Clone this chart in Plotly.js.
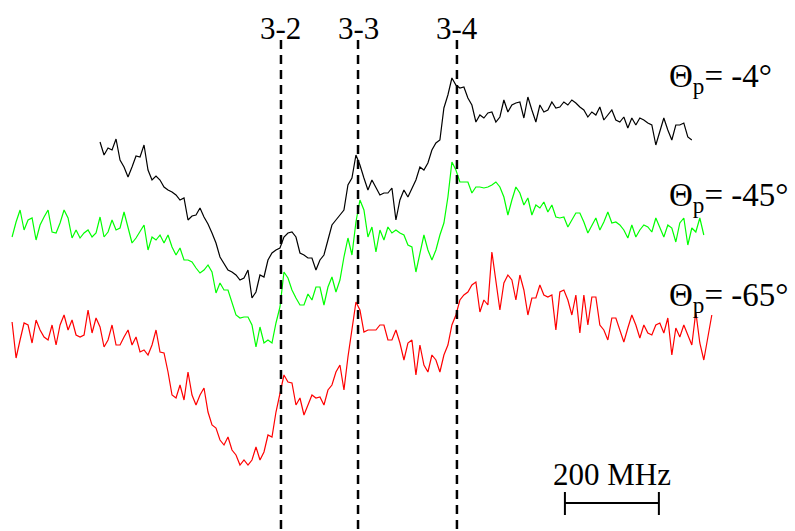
<!DOCTYPE html>
<html>
<head>
<meta charset="utf-8">
<script src="https://cdn.plot.ly/plotly-3.0.1.min.js"></script>
<style>html,body{margin:0;padding:0;background:#fff;}#chart{width:795px;height:531px;}</style>
</head>
<body>
<div id="chart"></div>
<script>
// Frequency grid (MHz) for each spectrum: start frequency + channel step
const CH_STEP = 8.51;
const START_M4 = -385.1;
const START_M45 = -572.3;
const START_M65 = -572.3;

// Spectra (signal, arbitrary units, larger value = lower on the plot)
const sig_m4 = [142,155,148,150,139,160,167,177,167,156,
157,145,170,180,176,180,187,190,192,195,
200,198,220,216,215,208,217,224,233,243,
257,263,270,272,275,280,278,270,298,292,
275,277,260,253,250,248,237,233,232,237,
253,255,258,258,270,260,255,240,225,220,
215,210,185,178,155,165,178,190,180,188,
195,193,193,188,220,200,190,197,188,180,
167,170,163,150,143,140,108,95,78,85,
88,87,98,105,122,115,118,113,112,122,
117,100,112,105,103,102,118,97,110,122,
105,112,110,102,108,107,102,105,100,103,
107,110,117,112,115,107,120,115,110,120,
122,117,128,118,125,118,120,123,125,145,
132,118,130,140,125,125,123,137,140];

const sig_m45 = [237,222,210,230,220,218,240,225,217,210,
232,233,223,210,218,238,230,238,233,230,
237,233,217,237,232,220,230,228,212,228,
243,238,232,225,250,237,240,235,243,235,
247,255,248,260,260,262,268,273,
270,265,272,293,283,290,290,302,315,318,
317,317,325,347,327,343,340,343,323,307,
272,278,290,298,305,305,294,300,287,287,
305,287,277,292,280,257,238,255,222,200,
210,237,227,252,230,240,227,233,
230,233,235,245,247,272,252,235,250,260,
250,235,223,197,162,170,182,182,182,193,
187,187,188,187,185,182,187,197,215,200,
187,193,205,198,215,205,208,202,212,205,
217,218,217,227,220,213,213,222,233,225,
218,230,222,212,223,222,225,230,238,225,
237,230,225,227,232,218,228,237,225,228,
242,223,218,245,228,232,218,235];

const sig_m65 = [322,358,340,323,325,343,320,330,337,340,
325,345,325,315,330,320,335,337,335,310,
333,318,327,347,340,325,345,345,337,330,
345,337,352,350,355,345,330,352,353,372,
395,398,385,400,372,395,405,395,388,412,
425,428,440,445,437,450,455,465,460,465,
460,447,460,452,435,437,412,392,375,382,
383,405,398,415,405,395,398,397,405,390,
385,372,365,390,357,330,302,310,332,330,
330,330,325,325,340,340,330,343,360,343,
340,375,345,365,372,355,360,372,355,345,
325,315,300,295,292,285,282,312,300,305,
252,280,310,283,275,280,300,275,290,315,
298,298,285,295,297,295,330,292,290,300,
315,295,333,295,325,297,297,325,330,340,
318,318,330,342,328,315,325,338,325,333,
335,325,323,333,318,355,328,337,325,335,
345,312,343,360,337,315];

const series_labels = ["Θ<sub>p</sub>= -4°", "Θ<sub>p</sub>= -45°", "Θ<sub>p</sub>= -65°"];
const series_colors = ["#000000", "#00ff00", "#ff0000"];
const series_label_y = [78, 197, 297];

// Transitions (MHz, relative to 3-2)
const trans_labels = ["3-2", "3-3", "3-4"];
const trans_freq = [0, 164, 374.5];

// Scale bar
const scale_label = "200 MHz";
const scale_start = 604.3;
const scale_len = 200;

function grid(start, n) { const a = []; for (let i = 0; i < n; i++) a.push(start + i * CH_STEP); return a; }

const sigs = [sig_m4, sig_m45, sig_m65];
const starts = [START_M4, START_M45, START_M65];
const traces = sigs.map((s, k) => ({
  x: grid(starts[k], s.length), y: s, type: 'scatter', mode: 'lines',
  line: {color: series_colors[k], width: 1.2}, hoverinfo: 'skip', showlegend: false
}));

const FAM = 'Liberation Serif, Times New Roman, serif';
const FONT = {family: FAM, size: 31, color: '#000'};
const FONT_LBL = {family: FAM, size: 33, color: '#000'};
const shapes = [];
const annotations = [];
trans_freq.forEach((f, i) => {
  shapes.push({type: 'line', xref: 'x', yref: 'y', x0: f, x1: f, y0: 40, y1: 531,
    line: {color: '#000', width: 2.5, dash: '9px,6px'}});
  annotations.push({x: f, y: 28, xref: 'x', yref: 'y', text: trans_labels[i], showarrow: false,
    xanchor: 'center', yanchor: 'middle', font: FONT});
});
series_labels.forEach((t, i) => {
  annotations.push({x: 821, y: series_label_y[i], xref: 'x', yref: 'y', text: t, showarrow: false,
    xanchor: 'left', yanchor: 'middle', font: FONT_LBL});
});
shapes.push({type: 'line', x0: scale_start, x1: scale_start + scale_len, y0: 503, y1: 503, line: {color: '#000', width: 2}});
shapes.push({type: 'line', x0: scale_start, x1: scale_start, y0: 492, y1: 515, line: {color: '#000', width: 2}});
shapes.push({type: 'line', x0: scale_start + scale_len, x1: scale_start + scale_len, y0: 492, y1: 515, line: {color: '#000', width: 2}});
annotations.push({x: scale_start + scale_len / 2, y: 474, text: scale_label, showarrow: false,
  xanchor: 'center', yanchor: 'middle', font: FONT});

const layout = {
  width: 795, height: 531, margin: {l: 0, r: 0, t: 0, b: 0},
  paper_bgcolor: '#fff', plot_bgcolor: '#fff',
  xaxis: {range: [-598, 1094], visible: false, fixedrange: true},
  yaxis: {range: [531, 0], visible: false, fixedrange: true},
  shapes: shapes, annotations: annotations, showlegend: false
};
Plotly.newPlot('chart', traces, layout, {displayModeBar: false, staticPlot: true});
</script>
</body>
</html>
